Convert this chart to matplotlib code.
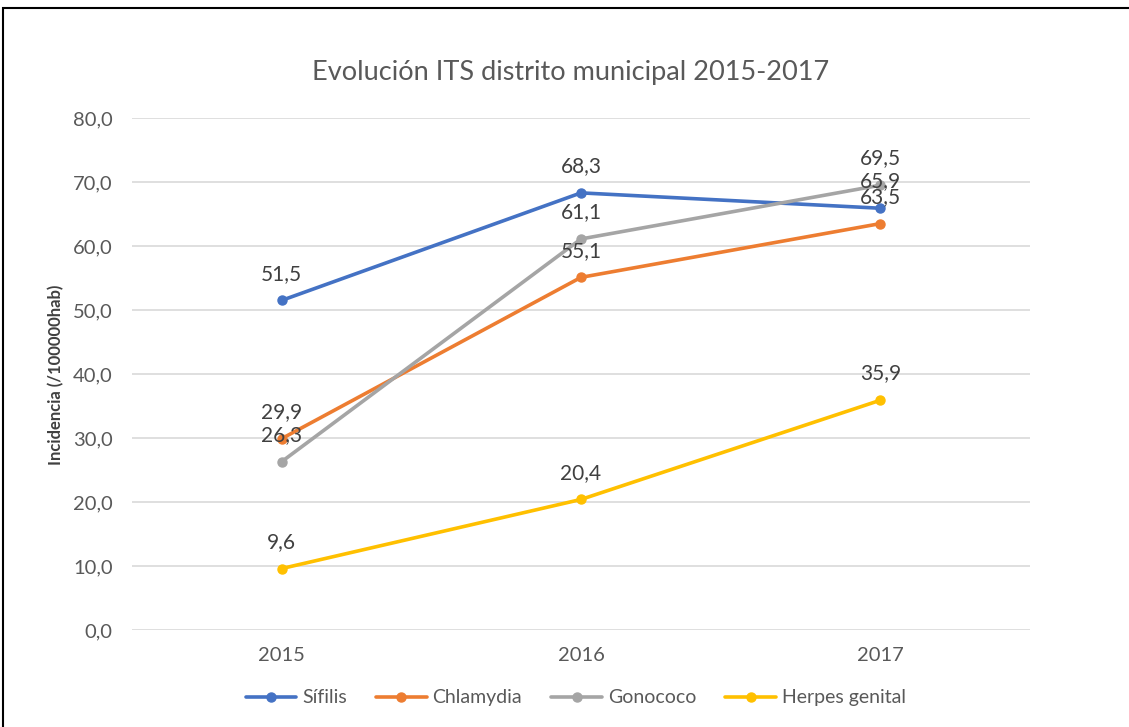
import matplotlib.pyplot as plt
from matplotlib.patches import Rectangle

plt.rcParams['font.family'] = ['Lato', 'DejaVu Sans']

years = ["2015", "2016", "2017"]
sifilis = [51.5, 68.3, 65.9]
chlamydia = [29.9, 55.1, 63.5]
gonococo = [26.3, 61.1, 69.5]
herpes = [9.6, 20.4, 35.9]

series = [
    ("Sífilis", sifilis, "#4472C4"),
    ("Chlamydia", chlamydia, "#ED7D31"),
    ("Gonococo", gonococo, "#A5A5A5"),
    ("Herpes genital", herpes, "#FFC000"),
]

fig = plt.figure(figsize=(11.29, 7.27), dpi=100)
ax = fig.add_axes([0.1169, 0.1334, 0.7954, 0.7043])

x = range(len(years))
for name, vals, col in series:
    ax.plot(x, vals, color=col, lw=2.6, marker="o", ms=6.5, label=name, solid_capstyle="round")
    for xi, v in zip(x, vals):
        ax.annotate(f"{v:.1f}".replace(".", ","), (xi, v), xytext=(0, 12), textcoords="offset points",
                    ha="center", va="bottom", fontsize=15, color="#404040")

ax.set_xlim(-0.5, 2.5)
ax.set_ylim(0, 80)
ax.set_yticks(range(0, 81, 10))
ax.set_yticklabels([f"{t},0" for t in range(0, 81, 10)])
ax.set_xticks(list(x))
ax.set_xticklabels(years)
ax.tick_params(length=0, labelsize=14.5, colors="#595959")
ax.tick_params(axis="y", pad=14)
ax.tick_params(axis="x", pad=12)
ax.grid(axis="y", color="#D9D9D9", lw=1.2)
ax.set_axisbelow(True)
for s in ax.spines.values():
    s.set_visible(False)

ax.set_title("Evolución ITS distrito municipal 2015-2017", fontsize=19.5, color="#595959", pad=27, x=0.488)
fig.text(0.05, 0.484, "Incidencia (/100000hab)", rotation=90, fontsize=12, color="#404040",
         ha="center", va="center", fontweight="bold")

fig.legend(loc="center", bbox_to_anchor=(0.51, 0.04), ncol=4, frameon=False, fontsize=14,
           labelcolor="#595959", handlelength=2.6, columnspacing=1.5, handletextpad=0.3)

fig.patches.append(Rectangle((3 / 1129, -0.1), 1.2, 1.1 - 8 / 727, transform=fig.transFigure,
                             fill=False, edgecolor="black", lw=1.5))

fig.savefig("out.png", dpi=100)
